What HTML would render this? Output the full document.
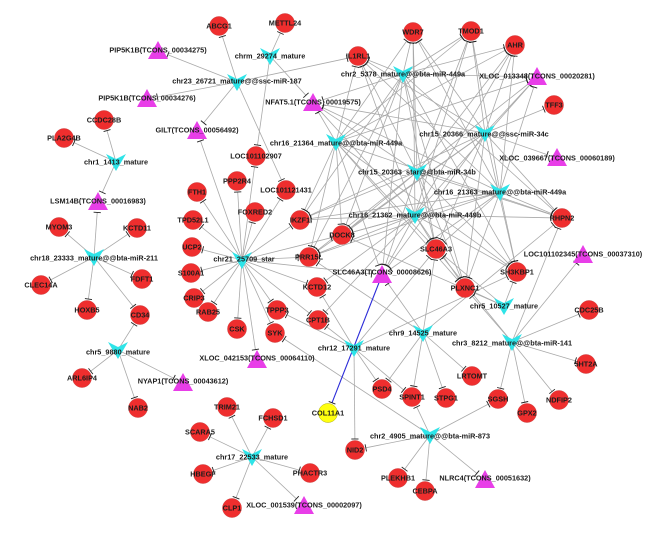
<!DOCTYPE html>
<html><head><meta charset="utf-8"><style>
html,body{margin:0;padding:0;background:#fff;}
svg{display:block;}
text{font-family:"Liberation Sans",Arial,sans-serif;font-size:7.3px;font-weight:bold;fill:#1c1c1c;text-anchor:middle;}
.c{fill:#ef2e2e;stroke:#c44;stroke-width:0.5;}
.y{fill:#ffff10;stroke:#aa0;stroke-width:0.5;}
.v{fill:#2ee4e8;}
.t{fill:#e83ee8;}
</style></head><body>
<svg id="s" width="669" height="544" viewBox="0 0 669 544" xmlns="http://www.w3.org/2000/svg">
<rect width="669" height="544" fill="#fff"/>
<g id="edges"></g>
<g id="nodes">
<circle class="c" cx="219" cy="26" r="9.5"/>
<circle class="c" cx="285" cy="23" r="9.5"/>
<circle class="c" cx="358" cy="56" r="9.5"/>
<circle class="c" cx="413" cy="32" r="9.5"/>
<circle class="c" cx="471" cy="31" r="9.5"/>
<circle class="c" cx="515" cy="45" r="9.5"/>
<circle class="c" cx="554" cy="105" r="9.5"/>
<circle class="c" cx="104" cy="120" r="9.5"/>
<circle class="c" cx="64" cy="138" r="9.5"/>
<circle class="c" cx="256" cy="156" r="9.5"/>
<circle class="c" cx="237" cy="181" r="9.5"/>
<circle class="c" cx="197" cy="192" r="9.5"/>
<circle class="c" cx="286" cy="190" r="9.5"/>
<circle class="c" cx="255" cy="212" r="9.5"/>
<circle class="c" cx="193" cy="220" r="9.5"/>
<circle class="c" cx="300" cy="220" r="9.5"/>
<circle class="c" cx="59" cy="227" r="9.5"/>
<circle class="c" cx="137" cy="228" r="9.5"/>
<circle class="c" cx="342" cy="235" r="9.5"/>
<circle class="c" cx="192" cy="247" r="9.5"/>
<circle class="c" cx="436" cy="249" r="9.5"/>
<circle class="c" cx="309" cy="257" r="9.5"/>
<circle class="c" cx="562" cy="218" r="9.5"/>
<circle class="c" cx="191" cy="273" r="9.5"/>
<circle class="c" cx="517" cy="272" r="9.5"/>
<circle class="c" cx="142" cy="279" r="9.5"/>
<circle class="c" cx="41" cy="285" r="9.5"/>
<circle class="c" cx="317" cy="287" r="9.5"/>
<circle class="c" cx="465" cy="288" r="9.5"/>
<circle class="c" cx="194" cy="298" r="9.5"/>
<circle class="c" cx="87" cy="310" r="9.5"/>
<circle class="c" cx="277" cy="310" r="9.5"/>
<circle class="c" cx="208" cy="312" r="9.5"/>
<circle class="c" cx="140" cy="315" r="9.5"/>
<circle class="c" cx="589" cy="310" r="9.5"/>
<circle class="c" cx="318" cy="320" r="9.5"/>
<circle class="c" cx="237" cy="329" r="9.5"/>
<circle class="c" cx="275" cy="333" r="9.5"/>
<circle class="c" cx="586" cy="364" r="9.5"/>
<circle class="c" cx="472" cy="376" r="9.5"/>
<circle class="c" cx="82" cy="378" r="9.5"/>
<circle class="c" cx="382" cy="389" r="9.5"/>
<circle class="c" cx="412" cy="397" r="9.5"/>
<circle class="c" cx="446" cy="398" r="9.5"/>
<circle class="c" cx="498" cy="399" r="9.5"/>
<circle class="c" cx="559" cy="400" r="9.5"/>
<circle class="c" cx="227" cy="407" r="9.5"/>
<circle class="c" cx="138" cy="408" r="9.5"/>
<circle class="c" cx="527" cy="413" r="9.5"/>
<circle class="y" cx="328" cy="413" r="9.5"/>
<circle class="c" cx="273" cy="418" r="9.5"/>
<circle class="c" cx="200" cy="432" r="9.5"/>
<circle class="c" cx="355" cy="450" r="9.5"/>
<circle class="c" cx="203" cy="474" r="9.5"/>
<circle class="c" cx="310" cy="473" r="9.5"/>
<circle class="c" cx="398" cy="478" r="9.5"/>
<circle class="c" cx="425" cy="491" r="9.5"/>
<circle class="c" cx="232" cy="508" r="9.5"/>
<!-- triangles -->
<path class="t" transform="translate(158,51)" d="M0,-10 L10,8 L-10,8 Z"/>
<path class="t" transform="translate(147,99)" d="M0,-10 L10,8 L-10,8 Z"/>
<path class="t" transform="translate(197,131)" d="M0,-10 L10,8 L-10,8 Z"/>
<path class="t" transform="translate(313,103)" d="M0,-10 L10,8 L-10,8 Z"/>
<path class="t" transform="translate(537,77)" d="M0,-10 L10,8 L-10,8 Z"/>
<path class="t" transform="translate(557,158)" d="M0,-10 L10,8 L-10,8 Z"/>
<path class="t" transform="translate(98,202)" d="M0,-10 L10,8 L-10,8 Z"/>
<path class="t" transform="translate(382,275)" d="M0,-10 L10,8 L-10,8 Z"/>
<path class="t" transform="translate(583,255)" d="M0,-10 L10,8 L-10,8 Z"/>
<path class="t" transform="translate(257,360)" d="M0,-10 L10,8 L-10,8 Z"/>
<path class="t" transform="translate(183,383)" d="M0,-10 L10,8 L-10,8 Z"/>
<path class="t" transform="translate(485,480)" d="M0,-10 L10,8 L-10,8 Z"/>
<path class="t" transform="translate(304,506)" d="M0,-10 L10,8 L-10,8 Z"/>
<!-- V miRNA -->
<path class="v" transform="translate(237,82)" d="M-10,-8 L0,-3 L10,-8 L0,9 Z"/>
<path class="v" transform="translate(270,56)" d="M-10,-8 L0,-3 L10,-8 L0,9 Z"/>
<path class="v" transform="translate(403,74)" d="M-10,-8 L0,-3 L10,-8 L0,9 Z"/>
<path class="v" transform="translate(116,162)" d="M-10,-8 L0,-3 L10,-8 L0,9 Z"/>
<path class="v" transform="translate(485,133)" d="M-10,-8 L0,-3 L10,-8 L0,9 Z"/>
<path class="v" transform="translate(336,142)" d="M-10,-8 L0,-3 L10,-8 L0,9 Z"/>
<path class="v" transform="translate(417,172)" d="M-10,-8 L0,-3 L10,-8 L0,9 Z"/>
<path class="v" transform="translate(500,192)" d="M-10,-8 L0,-3 L10,-8 L0,9 Z"/>
<path class="v" transform="translate(415,215)" d="M-10,-8 L0,-3 L10,-8 L0,9 Z"/>
<path class="v" transform="translate(94,257)" d="M-10,-8 L0,-3 L10,-8 L0,9 Z"/>
<path class="v" transform="translate(242,260)" d="M-10,-8 L0,-3 L10,-8 L0,9 Z"/>
<path class="v" transform="translate(504,306)" d="M-10,-8 L0,-3 L10,-8 L0,9 Z"/>
<path class="v" transform="translate(423,333)" d="M-10,-8 L0,-3 L10,-8 L0,9 Z"/>
<path class="v" transform="translate(512,342)" d="M-10,-8 L0,-3 L10,-8 L0,9 Z"/>
<path class="v" transform="translate(354,348)" d="M-10,-8 L0,-3 L10,-8 L0,9 Z"/>
<path class="v" transform="translate(118,350)" d="M-10,-8 L0,-3 L10,-8 L0,9 Z"/>
<path class="v" transform="translate(430,435)" d="M-10,-8 L0,-3 L10,-8 L0,9 Z"/>
<path class="v" transform="translate(252,457)" d="M-10,-8 L0,-3 L10,-8 L0,9 Z"/>
</g>
<g id="labels">
<text x="219" y="28.6">ABCG1</text>
<text x="285" y="25.6">METTL24</text>
<text x="358" y="58.6">IL1RL1</text>
<text x="413" y="34.6">WDR7</text>
<text x="471" y="33.6">TMOD1</text>
<text x="515" y="47.6">AHR</text>
<text x="554" y="107.6">TFF3</text>
<text x="104" y="122.6">CCDC28B</text>
<text x="64" y="140.6">PLA2G4B</text>
<text x="256" y="158.6">LOC101102907</text>
<text x="237" y="183.6">PPP2R4</text>
<text x="197" y="194.6">FTH1</text>
<text x="286" y="192.6">LOC101121431</text>
<text x="255" y="214.6">FOXRED2</text>
<text x="193" y="222.6">TPD52L1</text>
<text x="300" y="222.6">IKZF1</text>
<text x="59" y="229.6">MYOM3</text>
<text x="137" y="230.6">KCTD11</text>
<text x="342" y="237.6">DOCK8</text>
<text x="192" y="249.6">UCP2</text>
<text x="436" y="251.6">SLC46A3</text>
<text x="309" y="259.6">PRR15L</text>
<text x="562" y="220.6">RHPN2</text>
<text x="191" y="275.6">S100A1</text>
<text x="517" y="274.6">SH3KBP1</text>
<text x="142" y="281.6">FDFT1</text>
<text x="41" y="287.6">CLEC14A</text>
<text x="317" y="289.6">KCTD12</text>
<text x="465" y="290.6">PLXNC1</text>
<text x="194" y="300.6">CRIP3</text>
<text x="87" y="312.6">HOXB5</text>
<text x="277" y="312.6">TPPP3</text>
<text x="208" y="314.6">RAB25</text>
<text x="140" y="317.6">CD34</text>
<text x="589" y="312.6">CDC25B</text>
<text x="318" y="322.6">CPT1B</text>
<text x="237" y="331.6">CSK</text>
<text x="275" y="335.6">SYK</text>
<text x="586" y="366.6">5HT2A</text>
<text x="472" y="378.6">LRTOMT</text>
<text x="82" y="380.6">ARL6IP4</text>
<text x="382" y="391.6">PSD4</text>
<text x="412" y="399.6">SPINT1</text>
<text x="446" y="400.6">STPG1</text>
<text x="498" y="401.6">SGSH</text>
<text x="559" y="402.6">NDFIP2</text>
<text x="227" y="409.6">TRIM21</text>
<text x="138" y="410.6">NAB2</text>
<text x="527" y="415.6">GPX2</text>
<text x="328" y="415.6">COL11A1</text>
<text x="273" y="420.6">FCHSD1</text>
<text x="200" y="434.6">SCARA5</text>
<text x="355" y="452.6">NID2</text>
<text x="203" y="476.6">HBEGF</text>
<text x="310" y="475.6">PHACTR3</text>
<text x="398" y="480.6">PLEKHB1</text>
<text x="425" y="493.6">CEBPA</text>
<text x="232" y="510.6">CLP1</text>
<text x="158" y="52.6">PIP5K1B(TCONS_00034275)</text>
<text x="147" y="100.6">PIP5K1B(TCONS_00034276)</text>
<text x="197" y="132.6">GILT(TCONS_00056492)</text>
<text x="313" y="104.6">NFAT5.1(TCONS_00019575)</text>
<text x="537" y="78.6">XLOC_013348(TCONS_00020281)</text>
<text x="557" y="160.6">XLOC_039667(TCONS_00060189)</text>
<text x="98" y="203.6">LSM14B(TCONS_00016983)</text>
<text x="382" y="274.6">SLC46A3(TCONS_00008626)</text>
<text x="583" y="256.6">LOC101102345(TCONS_00037310)</text>
<text x="257" y="360.6">XLOC_042153(TCONS_00064110)</text>
<text x="183" y="383.6">NYAP1(TCONS_00043612)</text>
<text x="485" y="480.6">NLRC4(TCONS_00051632)</text>
<text x="304" y="507.6">XLOC_001539(TCONS_00002097)</text>
<text x="237" y="83.6">chr23_26721_mature@@ssc-miR-187</text>
<text x="270" y="58.6">chrm_29274_mature</text>
<text x="403" y="76.6">chr2_5378_mature@@bta-miR-449a</text>
<text x="116" y="164.6">chr1_1413_mature</text>
<text x="484" y="136.6">chr15_20366_mature@@ssc-miR-34c</text>
<text x="336" y="145.6">chr16_21364_mature@@bta-miR-449a</text>
<text x="417" y="174.6">chr15_20363_star@@bta-miR-34b</text>
<text x="500" y="194.6">chr16_21363_mature@@bta-miR-449a</text>
<text x="415" y="217.6">chr16_21362_mature@@bta-miR-449b</text>
<text x="94" y="260.6">chr18_23333_mature@@bta-miR-211</text>
<text x="244" y="261.6">chr21_25709_star</text>
<text x="504" y="308.6">chr5_10527_mature</text>
<text x="423" y="335.6">chr9_14525_mature</text>
<text x="512" y="345.6">chr3_8212_mature@@bta-miR-141</text>
<text x="354" y="350.6">chr12_17291_mature</text>
<text x="118" y="354.6">chr5_9880_mature</text>
<text x="430" y="438.6">chr2_4905_mature@@bta-miR-873</text>
<text x="252" y="459.6">chr17_22533_mature</text>
</g>
</svg>
<script>
(function(){
var P={
ABCG1:[219,26,'c'],METTL24:[285,23,'c'],IL1RL1:[358,56,'c'],WDR7:[413,32,'c'],TMOD1:[471,31,'c'],AHR:[515,45,'c'],TFF3:[554,105,'c'],
CCDC28B:[104,120,'c'],PLA2G4B:[64,138,'c'],LOC101102907:[256,156,'c'],PPP2R4:[237,181,'c'],FTH1:[197,192,'c'],LOC101121431:[286,190,'c'],
FOXRED2:[255,212,'c'],TPD52L1:[193,220,'c'],IKZF1:[300,220,'c'],MYOM3:[59,227,'c'],KCTD11:[137,228,'c'],DOCK8:[342,235,'c'],UCP2:[192,247,'c'],
SLC46A3:[436,249,'c'],PRR15L:[309,257,'c'],RHPN2:[562,218,'c'],S100A1:[191,273,'c'],SH3KBP1:[517,272,'c'],FDFT1:[142,279,'c'],CLEC14A:[41,285,'c'],
KCTD12:[317,287,'c'],PLXNC1:[465,288,'c'],CRIP3:[194,298,'c'],HOXB5:[87,310,'c'],TPPP3:[277,310,'c'],RAB25:[208,312,'c'],CD34:[140,315,'c'],
CDC25B:[589,310,'c'],CPT1B:[318,320,'c'],CSK:[237,329,'c'],SYK:[275,333,'c'],'5HT2A':[586,364,'c'],LRTOMT:[472,376,'c'],ARL6IP4:[82,378,'c'],
PSD4:[382,389,'c'],SPINT1:[412,397,'c'],STPG1:[446,398,'c'],SGSH:[498,399,'c'],NDFIP2:[559,400,'c'],TRIM21:[227,407,'c'],NAB2:[138,408,'c'],
GPX2:[527,413,'c'],COL11A1:[328,413,'c'],FCHSD1:[273,418,'c'],SCARA5:[200,432,'c'],NID2:[355,450,'c'],HBEGF:[203,474,'c'],PHACTR3:[310,473,'c'],
PLEKHB1:[398,478,'c'],CEBPA:[425,491,'c'],CLP1:[232,508,'c'],
T1:[158,51,'t'],T2:[147,99,'t'],GILT:[197,131,'t'],NFAT:[313,103,'t'],X13348:[537,77,'t'],X39667:[557,158,'t'],LSM14B:[98,202,'t'],
SLCT:[382,275,'t'],LOC345:[583,255,'t'],X42153:[257,360,'t'],NYAP1:[183,383,'t'],NLRC4:[485,480,'t'],X1539:[304,506,'t'],
chr23:[237,82],chrm:[270,56],c2_5378:[403,74],chr1:[116,162],c15_20366:[485,133],c16_21364:[336,142],c15_20363:[417,172],
c16_21363:[500,192],c16_21362:[415,215],chr18:[94,257],chr21:[242,260],c5_10527:[504,306],chr9:[423,333],chr3:[512,342],
chr12:[354,348],c5_9880:[118,350],c2_4905:[430,435],chr17:[252,457]
};
var dense=['WDR7','TMOD1','AHR','IL1RL1','X13348','NFAT','IKZF1','DOCK8','PRR15L','SLC46A3','SLCT','SH3KBP1','RHPN2','PLXNC1'];
var E={
chr23:['ABCG1','T1','T2','GILT','IL1RL1','LOC101121431'],
chrm:['METTL24','LOC101102907','NFAT'],
chr1:['CCDC28B','PLA2G4B','LSM14B'],
chr18:['LSM14B','MYOM3','KCTD11','CLEC14A','FDFT1','HOXB5','CD34'],
c5_9880:['CD34','ARL6IP4','NAB2','NYAP1'],
chr17:['TRIM21','FCHSD1','SCARA5','HBEGF','PHACTR3','CLP1','X1539'],
chr21:['GILT','LOC101102907','PPP2R4','FTH1','TPD52L1','UCP2','S100A1','CRIP3','RAB25','CSK','X42153','TPPP3','SYK','CPT1B','KCTD12','PRR15L','IKZF1','FOXRED2','LOC101121431','SLCT','DOCK8'],
c2_5378:dense,c16_21364:dense,c15_20363:dense,c16_21363:dense,
c15_20366:dense.concat(['TFF3','X39667']),
c16_21362:dense.concat(['CPT1B','KCTD12']),
chr12:['CPT1B','TPPP3','NID2','PSD4','KCTD12','SLC46A3','SH3KBP1','SPINT1'],
chr9:['PSD4','SPINT1','STPG1','LRTOMT','SLCT','SLC46A3','RHPN2','PRR15L'],
c5_10527:['SLC46A3','PLXNC1','SH3KBP1','DOCK8'],
chr3:['CDC25B','5HT2A','NDFIP2','GPX2','SGSH','PLXNC1','SLC46A3','RHPN2','LOC345'],
c2_4905:['NID2','SPINT1','SGSH','PLEKHB1','CEBPA','NLRC4','SYK']
};
var NS='http://www.w3.org/2000/svg';
var g=document.getElementById('edges');
var lines=document.createElementNS(NS,'g'),bars=document.createElementNS(NS,'g');
g.appendChild(lines);g.appendChild(bars);
function ln(p,x1,y1,x2,y2,c,w){var l=document.createElementNS(NS,'line');
l.setAttribute('x1',x1.toFixed(1));l.setAttribute('y1',y1.toFixed(1));l.setAttribute('x2',x2.toFixed(1));l.setAttribute('y2',y2.toFixed(1));
l.setAttribute('stroke',c);l.setAttribute('stroke-width',w);p.appendChild(l);}
function edge(a,b,c,w){var s=P[a],t=P[b];if(!s||!t)return;var dx=t[0]-s[0],dy=t[1]-s[1],L=Math.sqrt(dx*dx+dy*dy),ux=dx/L,uy=dy/L;
var r=(t[2]==='t')?10.5:11;var bx=t[0]-ux*r,by=t[1]-uy*r;
ln(lines,s[0],s[1],bx,by,c,w);
ln(bars,bx-uy*3.6,by+ux*3.6,bx+uy*3.6,by-ux*3.6,'#222',0.9);}
for(var s in E){var a=E[s];for(var i=0;i<a.length;i++)edge(s,a[i],'#a9a9a9',0.8);}
edge('SLCT','COL11A1','#2b2bd8',1.1);
})();
</script>
</body></html>
